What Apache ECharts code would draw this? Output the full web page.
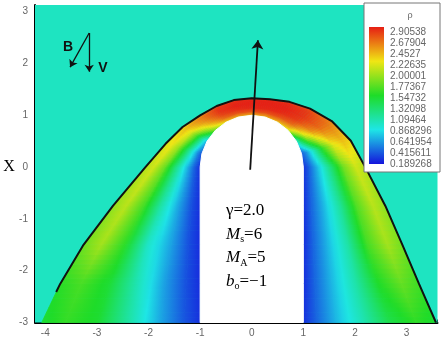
<!DOCTYPE html>
<html><head><meta charset="utf-8">
<script src="https://cdn.jsdelivr.net/npm/echarts@6/dist/echarts.min.js"></script>
<style>html,body{margin:0;padding:0;background:#fff}#c{width:443px;height:344px}</style>
</head><body><div id="c"></div>
<script>
// ---- colour scale (Tecplot small rainbow) ----
const rhoMin = 0.189268, rhoMax = 2.90538;
const palette = ['#1414dc', '#1ee6e6', '#1edc28', '#f0e614', '#e61e14'];
const legendTicks = ['2.90538','2.67904','2.4527','2.22635','2.00001','1.77367','1.54732','1.32098','1.09464','0.868296','0.641954','0.415611','0.189268'];
const freestreamRho = 1.0;

// ---- axes ----
const xTicks = [-4, -3, -2, -1, 0, 1, 2, 3];
const yTicks = [-3, -2, -1, 0, 1, 2, 3];

// ---- shock layer stations: body point -> shock point ----
const layerFrac = [0, 0.1, 0.25, 0.45, 0.65, 0.85, 1.0];
const bodyX  = [-1, -1, -1, -1, -1, -0.966, -0.866, -0.707, -0.5, -0.259, 0, 0.259, 0.5, 0.707, 0.866, 0.966, 1, 1, 1, 1, 1];
const bodyY  = [-3, -2.25, -1.5, -0.75, 0, 0.259, 0.5, 0.707, 0.866, 0.966, 1, 0.966, 0.866, 0.707, 0.5, 0.259, 0, -0.75, -1.5, -2.25, -3];
const shockX = [-4.07, -3.71, -3.26, -2.69, -2.06, -1.67, -1.34, -1.00, -0.68, -0.347, 0, 0.35, 0.73, 1.13, 1.55, 1.92, 2.20, 2.59, 2.92, 3.24, 3.57];
const shockY = [-3, -2.25, -1.5, -0.75, 0, 0.45, 0.775, 1.00, 1.18, 1.294, 1.33, 1.31, 1.26, 1.13, 0.89, 0.51, 0, -0.75, -1.5, -2.25, -3];
// density at each fraction of the layer (body -> shock), per station
const rhoF0   = [0.28, 0.27, 0.27, 0.27, 0.28, 0.38, 0.70, 1.75, 2.25, 2.35, 2.35, 2.35, 2.33, 2.15, 1.00, 0.42, 0.28, 0.27, 0.27, 0.27, 0.28];
const rhoF10  = [0.40, 0.38, 0.38, 0.38, 0.42, 0.55, 0.90, 1.95, 2.45, 2.55, 2.55, 2.56, 2.54, 2.40, 1.50, 0.60, 0.45, 0.45, 0.45, 0.45, 0.45];
const rhoF25  = [0.66, 0.63, 0.65, 0.66, 0.75, 0.92, 1.30, 2.20, 2.65, 2.75, 2.76, 2.76, 2.75, 2.65, 2.10, 1.05, 0.78, 0.72, 0.72, 0.72, 0.72];
const rhoF45  = [1.10, 1.05, 0.98, 1.10, 1.25, 1.45, 1.80, 2.42, 2.78, 2.86, 2.88, 2.88, 2.87, 2.80, 2.50, 1.70, 1.28, 1.15, 1.10, 1.08, 1.05];
const rhoF65  = [1.52, 1.50, 1.60, 1.68, 1.80, 1.95, 2.18, 2.55, 2.84, 2.90, 2.90, 2.90, 2.90, 2.84, 2.65, 2.18, 1.82, 1.72, 1.68, 1.55, 1.42];
const rhoF85  = [1.62, 1.68, 1.98, 2.05, 2.12, 2.22, 2.35, 2.60, 2.84, 2.88, 2.90, 2.90, 2.89, 2.82, 2.62, 2.35, 2.12, 2.05, 1.98, 1.78, 1.60];
const rhoF100 = [1.50, 1.58, 1.80, 1.92, 2.02, 2.15, 2.30, 2.55, 2.78, 2.84, 2.86, 2.86, 2.84, 2.75, 2.55, 2.28, 2.02, 1.92, 1.82, 1.65, 1.50];

// drawn shock line starts here on the left branch
const shockLineStart = [-3.79, -2.41];

// arrows (data coordinates)
const arrowB = [[-3.15, 2.59], [-3.52, 1.93]];
const arrowV = [[-3.15, 2.59], [-3.15, 1.84]];
const arrowMain = [[-0.03, -0.05], [0.12, 2.45]];

// ---- build ----
const rhoLevels = [rhoF0, rhoF10, rhoF25, rhoF45, rhoF65, rhoF85, rhoF100];
function rhoColor(v) {
  let t = (v - rhoMin) / (rhoMax - rhoMin);
  t = Math.max(0, Math.min(1, t));
  return echarts.color.lerp(t, palette);
}
const cells = [];
for (let j = 0; j < bodyX.length - 1; j++)
  for (let k = 0; k < layerFrac.length - 1; k++) cells.push([j, k]);

function layerPoint(j, f) {
  return [bodyX[j] + f * (shockX[j] - bodyX[j]), bodyY[j] + f * (shockY[j] - bodyY[j])];
}
const SUB = 8; // shading sub-steps between two stations
function mix(p, q, s) { return [p[0] + (q[0] - p[0]) * s, p[1] + (q[1] - p[1]) * s]; }

function renderCell(params, api) {
  const j = api.value(0), k = api.value(1);
  const f0 = layerFrac[k], f1 = layerFrac[k + 1];
  const A = api.coord(layerPoint(j, f0)), B = api.coord(layerPoint(j + 1, f0));
  const C = api.coord(layerPoint(j + 1, f1)), D = api.coord(layerPoint(j, f1));
  const children = [];
  for (let m = 0; m < SUB; m++) {
    const s0 = m / SUB, s1 = (m + 1) / SUB, sm = (s0 + s1) / 2;
    const a = mix(A, B, s0), b = mix(A, B, s1), c = mix(D, C, s1), d = mix(D, C, s0);
    const v0 = rhoLevels[k][j] + (rhoLevels[k][j + 1] - rhoLevels[k][j]) * sm;
    const v1 = rhoLevels[k + 1][j] + (rhoLevels[k + 1][j + 1] - rhoLevels[k + 1][j]) * sm;
    let ex = (b[0] - a[0]) + (c[0] - d[0]), ey = (b[1] - a[1]) + (c[1] - d[1]);
    const len = Math.hypot(ex, ey) || 1; ex /= len; ey /= len;
    const nx = -ey, ny = ex;
    const m0 = [(a[0] + b[0]) / 2, (a[1] + b[1]) / 2];
    const m1 = [(c[0] + d[0]) / 2, (c[1] + d[1]) / 2];
    let dist = (m1[0] - m0[0]) * nx + (m1[1] - m0[1]) * ny;
    if (Math.abs(dist) < 0.3) dist = dist < 0 ? -0.3 : 0.3;
    const stops = [];
    for (let s = 0; s <= 4; s++) stops.push({ offset: s / 4, color: rhoColor(v0 + (v1 - v0) * s / 4) });
    const grad = { type: 'linear', x: m0[0], y: m0[1], x2: m0[0] + nx * dist, y2: m0[1] + ny * dist, global: true, colorStops: stops };
    children.push({ type: 'polygon', shape: { points: [a, b, c, d] }, style: { fill: grad, stroke: grad, lineWidth: 0.8 } });
  }
  return { type: 'group', children };
}

const xMinor = [], yMinor = [];
for (let i = -42; i <= 36; i++) if (i % 10 !== 0) xMinor.push(i / 10);
for (let i = -15; i <= 15; i++) if (i % 5 !== 0) yMinor.push(i / 5);

const shockLine = [shockLineStart];
for (let j = 1; j < shockX.length; j++) shockLine.push([shockX[j], shockY[j]]);
const bodyOutline = bodyX.map((x, i) => [x, bodyY[i]]);

const axisLabelStyle = { color: '#666', fontSize: 10, fontFamily: 'Liberation Sans' };
const chart = echarts.init(document.getElementById('c'));
const serif = 'Liberation Serif';
const annoRich = {
  n: { fontFamily: serif, fontSize: 17, color: '#000', lineHeight: 20 },
  i: { fontFamily: serif, fontSize: 17, fontStyle: 'italic', color: '#000', lineHeight: 20 },
  s: { fontFamily: serif, fontSize: 10, color: '#000', verticalAlign: 'bottom', lineHeight: 10 }
};
const annoLines = ['{n|γ=2.0}', '{i|M}{s|s}{n|=6}', '{i|M}{s|A}{n|=5}', '{i|b}{s|o}{n|=−1}'];

const graphics = [
  { type: 'rect', shape: { x: 364, y: 3, width: 76, height: 169 }, style: { fill: '#fff', stroke: '#777', lineWidth: 1 }, z: 100 },
  { type: 'rect', shape: { x: 369, y: 27, width: 15, height: 137 }, z: 101,
    style: { fill: { type: 'linear', x: 0, y: 1, x2: 0, y2: 0, colorStops: palette.map((c, i) => ({ offset: i / (palette.length - 1), color: c })) } } },
  { type: 'text', x: 410, y: 16, z: 101, style: { text: 'ρ', fill: '#666', font: '9px Liberation Sans', align: 'center', verticalAlign: 'middle' } },
  { type: 'text', x: 9, y: 167, style: { text: 'X', fill: '#000', font: '16px Liberation Serif', align: 'center', verticalAlign: 'middle' } },
  { type: 'text', x: 68, y: 47, z: 50, style: { text: 'B', fill: '#111', font: 'bold 14px Liberation Sans', align: 'center', verticalAlign: 'middle' } },
  { type: 'text', x: 103, y: 68, z: 50, style: { text: 'V', fill: '#111', font: 'bold 14px Liberation Sans', align: 'center', verticalAlign: 'middle' } }
];
legendTicks.forEach((t, i) => graphics.push({ type: 'text', x: 390, y: 32 + i * 11, z: 101,
  style: { text: t, fill: '#666', font: '10px Liberation Sans', align: 'left', verticalAlign: 'middle' } }));
annoLines.forEach((t, i) => graphics.push({ type: 'text', x: 226, y: 211 + i * 23.5, z: 50,
  style: { text: t, rich: annoRich, align: 'left', verticalAlign: 'middle' } }));

chart.setOption({
  animation: false,
  grid: { left: 35, right: 5.5, top: 5, bottom: 21.5 },
  xAxis: [
    { type: 'value', min: -4.2, max: 3.6, position: 'bottom', splitLine: { show: false },
      axisLine: { onZero: false, lineStyle: { color: '#000', width: 2 } },
      axisTick: { inside: true, length: 6, customValues: xTicks, lineStyle: { color: '#000', width: 1 } },
      axisLabel: Object.assign({ customValues: xTicks, margin: 6 }, axisLabelStyle) },
    { type: 'value', min: -4.2, max: 3.6, position: 'bottom', splitLine: { show: false },
      axisLine: { show: false, onZero: false }, axisLabel: { show: false },
      axisTick: { inside: true, length: 3, customValues: xMinor, lineStyle: { color: '#000', width: 1 } } }
  ],
  yAxis: [
    { type: 'value', min: -3, max: 3.13, position: 'left', splitLine: { show: false },
      axisLine: { onZero: false, lineStyle: { color: '#000', width: 2 } },
      axisTick: { inside: true, length: 6, customValues: yTicks, lineStyle: { color: '#000', width: 1 } },
      axisLabel: Object.assign({ customValues: yTicks, margin: 7 }, axisLabelStyle) },
    { type: 'value', min: -3, max: 3.13, position: 'left', splitLine: { show: false },
      axisLine: { show: false, onZero: false }, axisLabel: { show: false },
      axisTick: { inside: true, length: 3, customValues: yMinor, lineStyle: { color: '#000', width: 1 } } }
  ],
  graphic: graphics,
  series: [
    { type: 'custom', name: 'freestream', xAxisIndex: 0, yAxisIndex: 0, data: [[0, 0]], silent: true, z: 1,
      renderItem: (params, api) => ({ type: 'rect', shape: { x: params.coordSys.x, y: params.coordSys.y, width: params.coordSys.width, height: params.coordSys.height }, style: { fill: rhoColor(freestreamRho) } }) },
    { type: 'custom', name: 'rho', xAxisIndex: 0, yAxisIndex: 0, data: cells, silent: true, z: 2, renderItem: renderCell },
    { type: 'custom', name: 'body', xAxisIndex: 0, yAxisIndex: 0, data: [[0, 0]], silent: true, z: 3,
      renderItem: (params, api) => ({ type: 'polygon', shape: { points: bodyOutline.map(p => api.coord(p)) }, style: { fill: '#fff', stroke: '#fff', lineWidth: 1 } }) },
    { type: 'line', name: 'shock', xAxisIndex: 0, yAxisIndex: 0, data: shockLine, showSymbol: false, symbol: 'none', z: 4,
      lineStyle: { color: '#111', width: 2 } },
    { type: 'lines', coordinateSystem: 'cartesian2d', xAxisIndex: 0, yAxisIndex: 0, z: 5,
      symbol: ['none', 'arrow'], symbolSize: 7, lineStyle: { color: '#111', width: 1.3, opacity: 1 },
      data: [{ coords: arrowB }, { coords: arrowV }] },
    { type: 'lines', coordinateSystem: 'cartesian2d', xAxisIndex: 0, yAxisIndex: 0, z: 5,
      symbol: ['none', 'arrow'], symbolSize: 9, lineStyle: { color: '#111', width: 1.8, opacity: 1 },
      data: [{ coords: arrowMain }] }
  ]
});
</script></body></html>
